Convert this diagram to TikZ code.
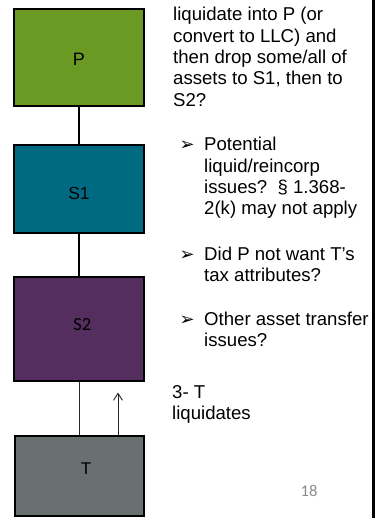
\documentclass[tikz,border=0pt]{standalone}
\usepackage{fontspec}
\setmainfont{Liberation Sans}
\newfontfamily\calib{Carlito}
\newfontfamily\symfont{DejaVu Sans}
\usetikzlibrary{arrows.meta}
\definecolor{pgreen}{HTML}{6A9A23}
\definecolor{steal}{HTML}{006A82}
\definecolor{spurple}{HTML}{532E5F}
\definecolor{tgray}{HTML}{6A7070}
\definecolor{pagenum}{HTML}{8C8C8C}
\tikzset{
  entity/.style={draw=black, line width=2pt, inner sep=0pt},
  bodyline/.style={anchor=base west, inner sep=0pt, font=\fontsize{18.6}{21.4}\selectfont},
  bulletmark/.style={anchor=base west, inner sep=0pt, font=\symfont\fontsize{18}{20}\selectfont},
  tie/.style={line width=2pt, black},
  thintie/.style={line width=0.9pt, black!85},
}
\begin{document}
\begin{tikzpicture}[x=1pt,y=-1pt]
\useasboundingbox (0,0) rectangle (377,518);

% entity boxes
\draw[entity, fill=pgreen]  (14,9)    rectangle (144,106);
\draw[entity, fill=steal]   (14,145)  rectangle (144,233);
\draw[entity, fill=spurple] (14,277)  rectangle (144,381);
\draw[entity, fill=tgray]   (15,436)  rectangle (144,516);

\node[inner sep=0pt, font=\fontsize{18}{20}\selectfont] (P)  at (79,59.5) {P};
\node[inner sep=0pt, font=\fontsize{17.5}{20}\selectfont] (S1) at (79,193) {S1};
\node[inner sep=0pt, font=\calib\fontsize{18.5}{20}\selectfont] (S2) at (82.3,324.5) {S2};
\node[inner sep=0pt, font=\fontsize{17}{20}\selectfont] (T)  at (86,469) {T};

% anchor points on box edges
\coordinate (Pb)  at (79,107);
\coordinate (S1t) at (79,144);
\coordinate (S1b) at (79,234);
\coordinate (S2t) at (79,276);
\coordinate (S2b) at (79,382);
\coordinate (Tt)  at (79,435);
\coordinate (Ta)  at (118,435);
\coordinate (Tup) at (118,392.5);

\draw[tie] (Pb) -- (S1t);
\draw[tie] (S1b) -- (S2t);
\draw[thintie] (S2b) -- (Tt);
\draw[thintie, -{Straight Barb[length=7pt, width=9pt, line width=0.9pt]}] (Ta) -- (Tup);

% right margin rule
\coordinate (rt) at (373.5,0);
\coordinate (rb) at (373.5,518);
\draw[line width=3pt] (rt) -- (rb);

% text column
\node[bodyline] (l1) at (173,20.7)  {liquidate into P (or};
\node[bodyline] (l2) at (173,42.1)  {convert to LLC) and};
\node[bodyline] (l3) at (173,63.5)  {then drop some/all of};
\node[bodyline] (l4) at (173,84.9)  {assets to S1, then to};
\node[bodyline] (l5) at (173,106.3) {S2?};

\node[bulletmark] (b1) at (179.5,150.5) {➢};
\node[bodyline] (a1) at (204,150.7) {Potential};
\node[bodyline] (a2) at (204,172.1) {liquid/reincorp};
\node[bodyline] (a3) at (204,193.5) {issues?\ \ § 1.368-};
\node[bodyline] (a4) at (204,214.9) {2(k) may not apply};

\node[bulletmark] (b2) at (179.5,260) {➢};
\node[bodyline] (c1) at (204,260.3) {Did P not want T’s};
\node[bodyline] (c2) at (204,281.7) {tax attributes?};

\node[bulletmark] (b3) at (179.5,325) {➢};
\node[bodyline] (d1) at (204,325) {Other asset transfer};
\node[bodyline] (d2) at (204,346.4) {issues?};

\node[bodyline] (e1) at (172,398) {3- T};
\node[bodyline] (e2) at (172,419.4) {liquidates};

\node[anchor=base, inner sep=0pt, text=pagenum, font=\calib\fontsize{16.5}{20}\selectfont] (pg) at (309,496.5) {18};
\end{tikzpicture}
\end{document}
